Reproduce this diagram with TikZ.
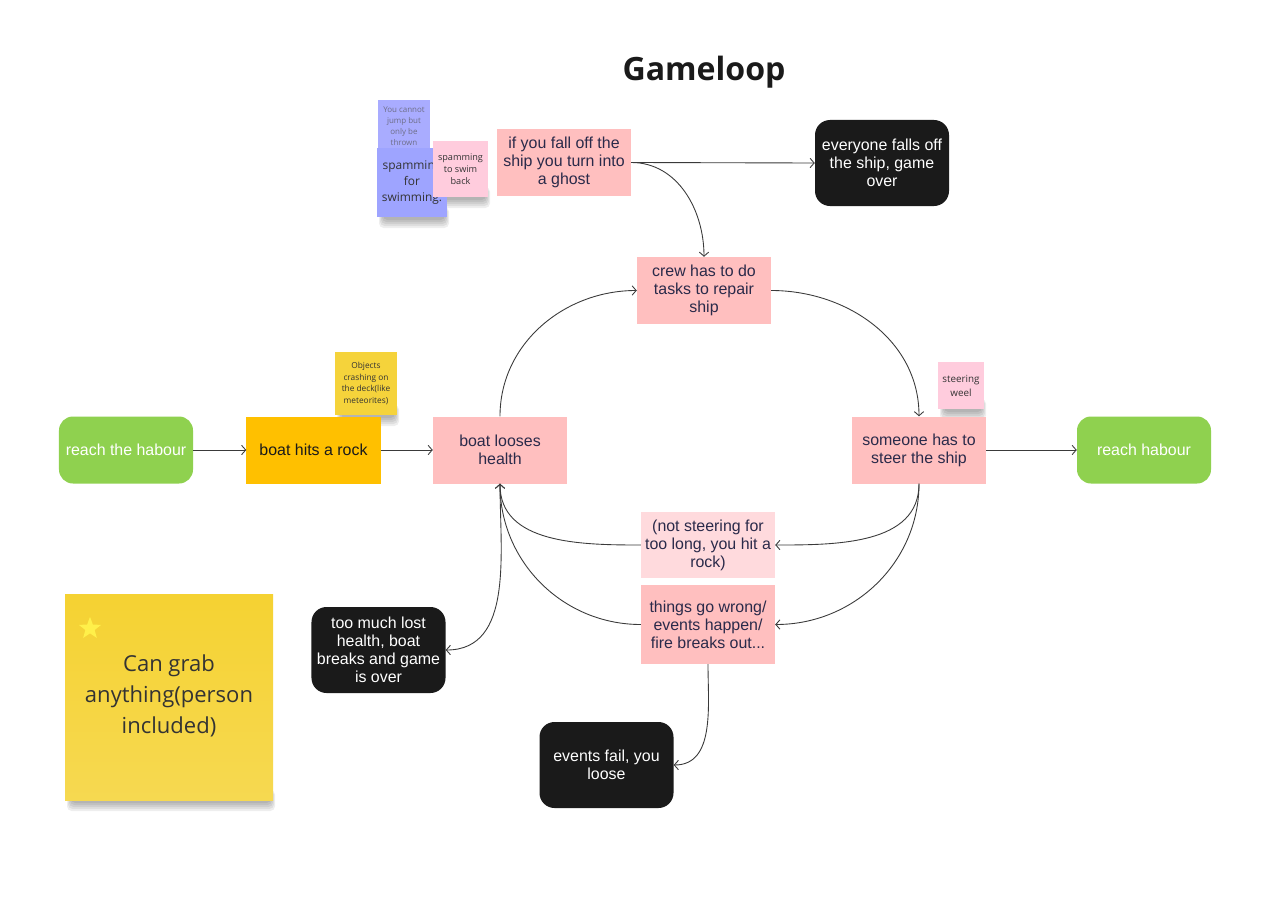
\documentclass[tikz,border=0pt]{standalone}
\usepackage{fontspec}
\setmainfont{Liberation Sans}
\newfontfamily\osans{Open Sans}
\usetikzlibrary{arrows.meta,shapes.geometric}
\definecolor{pinkc}{HTML}{FFBFBF}
\definecolor{lpinkc}{HTML}{FFDADD}
\definecolor{greenc}{HTML}{8FD14F}
\definecolor{orangec}{HTML}{FFC000}
\definecolor{blackc}{HTML}{1A1A1A}
\definecolor{navyc}{HTML}{2A2A4A}
\definecolor{linec}{HTML}{3A3A3A}
\definecolor{blueA}{HTML}{A9ACFF}
\definecolor{blueB}{HTML}{9EA4FF}
\definecolor{stickpink}{HTML}{FFCCDD}
\definecolor{stickyel}{HTML}{F5D33B}
\definecolor{bigyel}{HTML}{F5D232}
\definecolor{starc}{HTML}{FFF04A}
\definecolor{greytext}{HTML}{6E6E88}
\definecolor{darktext}{HTML}{333333}
\newcommand\stickyshadow[4]{\foreach \d in {0,2,4,6,8}{\fill[black,opacity=0.065,rounded corners=4] ({#1+6-\d*0.5},{#4-10}) rectangle ({#3-2+\d*0.5},{#4+3+\d});}}
\begin{document}
\begin{tikzpicture}[x=0.03cm,y=-0.03cm,
  box/.style={rectangle, minimum width=4.02cm, minimum height=2.01cm, align=center, inner sep=1pt,
    font=\fontsize{13.6}{15.3}\selectfont},
  pinkbox/.style={box, fill=pinkc, text=navyc},
  lpinkbox/.style={box, fill=lpinkc, text=navyc},
  greenbox/.style={box, fill=greenc, text=white, rounded corners=0.42cm},
  blackbox/.style={box, fill=blackc, text=white, rounded corners=0.45cm, minimum height=2.58cm},
  sticky/.style={rectangle, align=center, inner sep=0pt, text=darktext},
  conn/.style={draw=linec, line width=0.75pt, -{Straight Barb[length=3.5pt,width=8pt]}}
]
\useasboundingbox (0,0) rectangle (1276,897);
\fill[white] (0,0) rectangle (1276,897);

% title
\node[font=\osans\bfseries\fontsize{27.4}{31}\selectfont, text=blackc] (title) at (704,72) {Gameloop};

% sticky notes (shadows first)
\stickyshadow{377}{148}{447}{217}
\stickyshadow{433}{141}{488}{197}
\stickyshadow{335}{352}{397}{415}
\stickyshadow{938}{362}{984}{409}
\stickyshadow{65}{594}{273}{800}

\node[sticky, fill=blueA, minimum width=1.56cm, minimum height=1.56cm, text=greytext,
  font=\osans\fontsize{6.8}{9.4}\selectfont] (jump) at (404,126) {You cannot\\jump but\\only be\\thrown};
\node[sticky, fill=blueB, minimum width=2.1cm, minimum height=2.07cm,
  font=\osans\fontsize{10.2}{13.6}\selectfont] (swim) at (412,182.5) {spamming\\for\\swimming.};
\node[sticky, fill=stickpink, minimum width=1.65cm, minimum height=1.68cm,
  font=\osans\fontsize{7.8}{10}\selectfont] (swimback) at (460.5,169) {spamming\\to swim\\back};
\node[sticky, fill=stickyel, minimum width=1.86cm, minimum height=1.89cm,
  font=\osans\fontsize{7.1}{10.2}\selectfont] (objects) at (366,383.5) {Objects\\crashing on\\the deck(like\\meteorites)};
\node[sticky, fill=stickpink, minimum width=1.38cm, minimum height=1.41cm,
  font=\osans\fontsize{8.4}{12}\selectfont] (wheel) at (961,385.5) {steering\\weel};

% big sticky
\shade[top color=bigyel, bottom color=bigyel!85!white] (65,594) rectangle (273,800);
\node[sticky, minimum width=6.24cm, minimum height=6.18cm,
  font=\osans\fontsize{18.8}{26.5}\selectfont] (grab) at (169,696) {Can grab\\anything(person\\included)};
\node[star, star points=5, star point ratio=2.4, fill=starc, minimum size=0.7cm, inner sep=0pt] (star) at (90,628.5) {};

% main nodes
\node[pinkbox] (ghost) at (564,162.5) {if you fall off the\\ship you turn into\\a ghost};
\node[blackbox] (everyone) at (882,163) {everyone falls off\\the ship, game\\over};
\node[pinkbox] (crew) at (704,290.5) {crew has to do\\tasks to repair\\ship};
\node[greenbox] (start) at (126,450) {reach the habour};
\node[box, fill=orangec, text=blackc] (rock) at (313.5,450) {boat hits a rock};
\node[pinkbox] (health) at (500,450) {boat looses\\health};
\node[pinkbox] (steer) at (919,450) {someone has to\\steer the ship};
\node[greenbox] (goal) at (1144,450) {reach habour};
\node[lpinkbox, minimum height=1.98cm] (nots) at (708,545) {(not steering for\\too long, you hit a\\rock)};
\node[pinkbox, minimum height=2.37cm] (things) at (708,624.5) {things go wrong/\\events happen/\\fire breaks out...};
\node[blackbox] (broken) at (378.5,650) {too much lost\\health, boat\\breaks and game\\is over};
\node[blackbox] (fail) at (606.5,765) {events fail, you\\loose};

% connectors
\draw[conn] (start) -- (rock);
\draw[conn] (rock) -- (health);
\draw[conn] (steer) -- (goal);
\draw[conn] (ghost.east) -- (everyone.west);
\draw[conn] (ghost.east) to[out=0,in=90] (crew.north);
\draw[conn] (health.north) to[out=90,in=180] (crew.west);
\draw[conn] (crew.east) to[out=0,in=90] (steer.north);
\draw[conn] (steer.south) to[out=-90,in=0] (nots.east);
\draw[conn] (steer.south) to[out=-90,in=0] (things.east);
\draw[conn] (nots.west) to[out=180,in=-90] (health.south);
\draw[conn] (things.west) to[out=180,in=-90] (health.south);
\draw[conn] (health.south) to[out=-90,in=0] (broken.east);
\draw[conn] (things.south) to[out=-90,in=0] (fail.east);
\end{tikzpicture}
\end{document}
